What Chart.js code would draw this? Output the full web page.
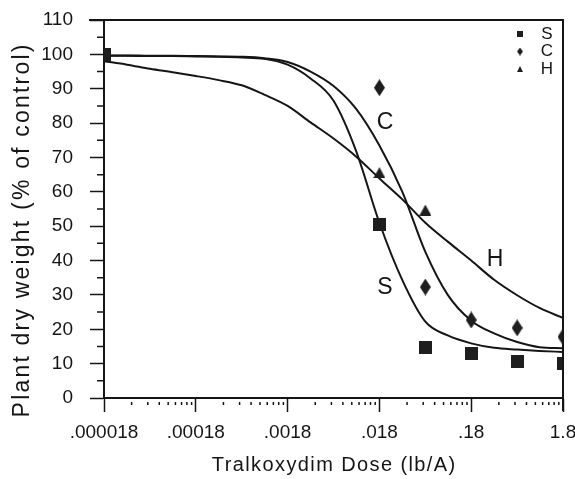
<!DOCTYPE html>
<html>
<head>
<meta charset="utf-8">
<script src="https://cdn.jsdelivr.net/npm/chart.js@4.4.0/dist/chart.umd.min.js"></script>
<style>
  html, body { margin: 0; padding: 0; background: #fff; }
</style>
</head>
<body>
<canvas id="doseChart" width="575" height="479"></canvas>
<script>
const curveDose = [0.000018, 0.000032, 0.000057, 0.0001, 0.00018, 0.00032, 0.00057, 0.001, 0.0018, 0.0032,
    0.0057, 0.01, 0.018, 0.032, 0.057, 0.1, 0.18, 0.32, 0.57, 1.0, 1.8];
const curveS = [99.6, 99.6, 99.5, 99.5, 99.4, 99.3, 99.1, 98.7, 97, 93, 86.5, 72, 51, 34.3, 22.2, 18.2, 15.9, 14.6, 14.1, 13.7, 13.4];
const curveC = [99.7, 99.7, 99.6, 99.6, 99.5, 99.4, 99.3, 98.9, 97.8, 95, 90.8, 84.2, 73.5, 60, 42.5, 30, 22.5, 18.8, 16.3, 14.8, 14.5];
const curveH = [98, 97, 95.8, 94.8, 93.7, 92.5, 91, 88.3, 85, 80.2, 75.5, 70.3, 63.9, 57.8, 51, 45.5, 40, 34.4, 29.9, 26.2, 23.3];

// measured points
const doseS = [0.000018, 0.018, 0.057, 0.18, 0.57, 1.8];
const weightS = [100, 50.5, 14.8, 13, 10.5, 10];
const doseC = [0.018, 0.057, 0.18, 0.57, 1.8];
const weightC = [90.3, 32.3, 22.7, 20.4, 17.8];
const doseH = [0.018, 0.057];
const weightH = [65.6, 54.7];

const xTicks = [0.000018, 0.00018, 0.0018, 0.018, 0.18, 1.8];
const xTickLabels = ['.000018', '.00018', '.0018', '.018', '.18', '1.8'];

// letters written next to the curves (data coords)
const curveLabels = ['C', 'S', 'H'];
const curveLabelDose = [0.0207, 0.0207, 0.327];
const curveLabelWeight = [80, 32, 40.2];

const legendLabels = ['S', 'C', 'H'];

const ink = '#151515';
const textFont = '"Liberation Sans", Arial, sans-serif';

function makeMarker(shape, w, h) {
    const c = document.createElement('canvas');
    c.width = w;
    c.height = h;
    const g = c.getContext('2d');
    g.fillStyle = '#1e1e1e';
    g.beginPath();
    if (shape === 'square') {
        g.rect(0, 0, w, h);
    } else if (shape === 'diamond') {
        g.moveTo(w / 2, 0);
        g.lineTo(w, h / 2);
        g.lineTo(w / 2, h);
        g.lineTo(0, h / 2);
    } else {
        g.moveTo(w / 2, 0);
        g.lineTo(w, h);
        g.lineTo(0, h);
    }
    g.closePath();
    g.fill();
    return c;
}

const squareMark = makeMarker('square', 13, 13);
const diamondMark = makeMarker('diamond', 11, 17);
const triangleMark = makeMarker('triangle', 12, 11);
const legendMarks = [makeMarker('square', 6, 6), makeMarker('diamond', 6, 8), makeMarker('triangle', 6, 6)];

function pairs(xs, ys) {
    return xs.map((x, i) => ({x: x, y: ys[i]}));
}

function curveSet(values) {
    return {
        data: pairs(curveDose, values),
        showLine: true,
        borderColor: ink,
        borderWidth: 2,
        pointRadius: 0,
        cubicInterpolationMode: 'monotone',
        order: 5
    };
}

function pointSet(xs, ys, mark) {
    return {
        data: pairs(xs, ys),
        showLine: false,
        pointStyle: mark,
        pointRadius: 6,
        order: 1
    };
}

function spacedText(ctx, text, x, y, spacing) {
    if ('letterSpacing' in ctx) ctx.letterSpacing = spacing + 'px';
    ctx.fillText(text, x + spacing / 2, y);
    if ('letterSpacing' in ctx) ctx.letterSpacing = '0px';
}

// frame, minor ticks, curve letters, legend, axis titles
const extras = {
    id: 'extras',
    afterDraw(chart) {
        const ctx = chart.ctx;
        const a = chart.chartArea;
        const xs = chart.scales.x;
        const ys = chart.scales.y;
        ctx.save();
        ctx.strokeStyle = ink;
        ctx.lineWidth = 2;
        ctx.beginPath();
        ctx.moveTo(a.left - 15, a.top);
        ctx.lineTo(a.right, a.top);
        ctx.lineTo(a.right, a.bottom + 13);
        ctx.stroke();

        // minor log ticks
        ctx.lineWidth = 1.5;
        ctx.beginPath();
        for (let d = 0; d < xTicks.length - 1; d++) {
            for (let k = 2; k <= 9; k++) {
                const px = xs.getPixelForValue(xTicks[d] * k);
                ctx.moveTo(px, a.bottom + 4);
                ctx.lineTo(px, a.bottom + 7);
            }
        }
        // minor y ticks at the 5s
        for (let v = 5; v < 110; v += 10) {
            const py = ys.getPixelForValue(v);
            ctx.moveTo(a.left - 7, py);
            ctx.lineTo(a.left, py);
        }
        ctx.stroke();

        ctx.fillStyle = ink;
        ctx.textAlign = 'center';
        ctx.textBaseline = 'middle';
        ctx.font = '23px ' + textFont;
        for (let i = 0; i < curveLabels.length; i++) {
            ctx.fillText(curveLabels[i], xs.getPixelForValue(curveLabelDose[i]), ys.getPixelForValue(curveLabelWeight[i]));
        }

        ctx.font = '17px ' + textFont;
        for (let i = 0; i < legendLabels.length; i++) {
            const ly = a.top + 14 + i * 17.5;
            const m = legendMarks[i];
            ctx.drawImage(m, a.right - 43 - m.width / 2, ly - m.height / 2);
            ctx.fillText(legendLabels[i], a.right - 16, ly);
        }

        // x axis title
        ctx.font = '20px ' + textFont;
        spacedText(ctx, 'Tralkoxydim Dose (lb/A)', (a.left + a.right) / 2, 465, 1.4);

        // y axis title
        ctx.translate(23, 231);
        ctx.rotate(-Math.PI / 2);
        ctx.font = '23px ' + textFont;
        spacedText(ctx, 'Plant dry weight (% of control)', 0, 0, 2.2);
        ctx.restore();
    }
};

new Chart(document.getElementById('doseChart'), {
    type: 'scatter',
    data: {
        datasets: [
            curveSet(curveS),
            curveSet(curveC),
            curveSet(curveH),
            pointSet(doseH, weightH, triangleMark),
            pointSet(doseC, weightC, diamondMark),
            pointSet(doseS, weightS, squareMark)
        ]
    },
    options: {
        responsive: false,
        animation: false,
        layout: {padding: {top: 20, right: 12, left: 0, bottom: 0}},
        plugins: {legend: {display: false}, tooltip: {enabled: false}},
        scales: {
            x: {
                type: 'logarithmic',
                min: 0.000018,
                max: 1.8,
                afterBuildTicks: (scale) => {
                    scale.ticks = xTicks.map(v => ({value: v}));
                },
                afterFit: (scale) => {
                    scale.height = 81;
                    scale.paddingLeft = 0;
                    scale.paddingRight = 0;
                },
                ticks: {
                    autoSkip: false,
                    maxRotation: 0,
                    padding: 9,
                    color: ink,
                    font: {family: textFont, size: 19},
                    callback: (value, index) => xTickLabels[index]
                },
                grid: {drawOnChartArea: false, tickLength: 14, tickColor: ink, tickWidth: 1.5},
                border: {color: ink, width: 2}
            },
            y: {
                min: 0,
                max: 110,
                afterFit: (scale) => {
                    scale.width = 104;
                    scale.paddingTop = 0;
                    scale.paddingBottom = 0;
                },
                ticks: {
                    stepSize: 10,
                    padding: 17,
                    color: ink,
                    font: {family: textFont, size: 19}
                },
                grid: {drawOnChartArea: false, tickLength: 14, tickColor: ink, tickWidth: 1.5},
                border: {color: ink, width: 2}
            }
        }
    },
    plugins: [extras]
});
</script>
</body>
</html>
